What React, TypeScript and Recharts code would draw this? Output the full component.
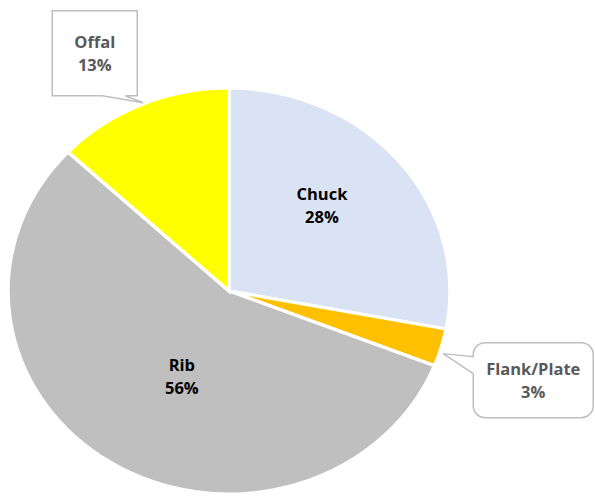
import React from 'react';
import { PieChart, Pie, Cell } from 'recharts';

// slice data (percent of total)
const CUTS = ['Chuck', 'Flank/Plate', 'Rib', 'Offal'];
const SHARES = [28, 3, 56, 13];
const COLORS = ['#DAE3F3', '#FFC000', '#BFBFBF', '#FFFF00'];

const W = 595;
const H = 496;
const SY = 0.9186; // the source pie is a slightly squashed ellipse
const RADIAN = Math.PI / 180;
const FONT = '"Open Sans", "Noto Sans", sans-serif';
const FS = 16.5;
const GAP = 11.5;

const data = CUTS.map((name, i) => ({ name, value: SHARES[i], color: COLORS[i] }));

// how labels sit: inside the slice (with a small nudge) or as a callout box
const LABEL_STYLE: Record<string, any> = {
    'Chuck': { kind: 'inside', r: 0.59, dx: -7.5, dy: -9.5 },
    'Rib': { kind: 'inside', r: 0.47, dx: 8.5, dy: 4 },
    'Offal': { kind: 'box' },
    'Flank/Plate': { kind: 'rounded' },
};

const Callout = ({ x, y, kind, lines }: any) => {
    const unscale = `translate(${x},${y}) scale(1,${1 / SY})`;
    let path = '';
    let tx = 0;
    let ty = 0;
    if (kind === 'box') {
        // square callout above-left, tail down to the slice edge
        const L = -89, R = -4, T = -94, B = -9;
        path = `M${L},${T} H${R} V${B} H-16 L2,-2 L-39,${B} H${L} Z`;
        tx = (L + R) / 2;
        ty = (T + B) / 2;
    } else {
        // rounded callout to the right, tail to the left
        const L = 32, R = 152, T = -5, B = 70, r = 12;
        path = `M${L + r},${T} H${R - r} A${r},${r} 0 0 1 ${R},${T + r} V${B - r} ` +
            `A${r},${r} 0 0 1 ${R - r},${B} H${L + r} A${r},${r} 0 0 1 ${L},${B - r} ` +
            `V26 L2,6 L${L},9 V${T + r} A${r},${r} 0 0 1 ${L + r},${T} Z`;
        tx = (L + R) / 2;
        ty = (T + B) / 2;
    }
    return (
        <g transform={unscale}>
            <path d={path} fill="#fff" stroke="#BFBFBF" strokeWidth={1.5} />
            <text x={tx} y={ty - GAP} textAnchor="middle" dominantBaseline="central"
                style={{ fontSize: FS, fontWeight: 700, fill: '#595959', fontFamily: FONT }}>
                {lines[0]}
            </text>
            <text x={tx} y={ty + GAP} textAnchor="middle" dominantBaseline="central"
                style={{ fontSize: FS, fontWeight: 700, fill: '#595959', fontFamily: FONT }}>
                {lines[1]}
            </text>
        </g>
    );
};

const renderLabel = ({ cx, cy, midAngle, outerRadius, percent, name }: any) => {
    const cfg = LABEL_STYLE[name];
    const lines = [name, `${Math.round(percent * 100)}%`];
    if (cfg.kind === 'inside') {
        const rr = outerRadius * cfg.r;
        const x = cx + rr * Math.cos(-midAngle * RADIAN) + cfg.dx;
        const y = cy + rr * Math.sin(-midAngle * RADIAN) + cfg.dy / SY;
        return (
            <g key={name} transform={`translate(${x},${y}) scale(1,${1 / SY})`}>
                <text x={0} y={-GAP} textAnchor="middle" dominantBaseline="central"
                    style={{ fontSize: FS, fontWeight: 700, fill: '#000', fontFamily: FONT }}>
                    {lines[0]}
                </text>
                <text x={0} y={GAP} textAnchor="middle" dominantBaseline="central"
                    style={{ fontSize: FS, fontWeight: 700, fill: '#000', fontFamily: FONT }}>
                    {lines[1]}
                </text>
            </g>
        );
    }
    // tail tip sits on the outer edge at the slice's mid angle
    const x = cx + outerRadius * Math.cos(-midAngle * RADIAN);
    const y = cy + outerRadius * Math.sin(-midAngle * RADIAN);
    return <Callout key={name} x={x} y={y} kind={cfg.kind} lines={lines} />;
};

export default function App() {
    const chartH = H / SY;
    return (
        <div style={{
            position: 'absolute', left: 0, top: 0, width: W, height: H,
            overflow: 'hidden', background: '#fff',
        }}>
            <div style={{ width: W, height: chartH, transform: `scale(1,${SY})`, transformOrigin: '0 0' }}>
                <PieChart width={W} height={chartH} margin={{ top: 0, right: 0, bottom: 0, left: 0 }}>
                    <Pie
                        data={data}
                        dataKey="value"
                        nameKey="name"
                        cx={229}
                        cy={291 / SY}
                        outerRadius={221}
                        startAngle={90}
                        endAngle={-270}
                        stroke="#fff"
                        strokeWidth={3.5}
                        labelLine={false}
                        label={renderLabel}
                        isAnimationActive={false}
                    >
                        {data.map((d, i) => (
                            <Cell key={`cell-${i}`} fill={d.color} />
                        ))}
                    </Pie>
                </PieChart>
            </div>
        </div>
    );
}
